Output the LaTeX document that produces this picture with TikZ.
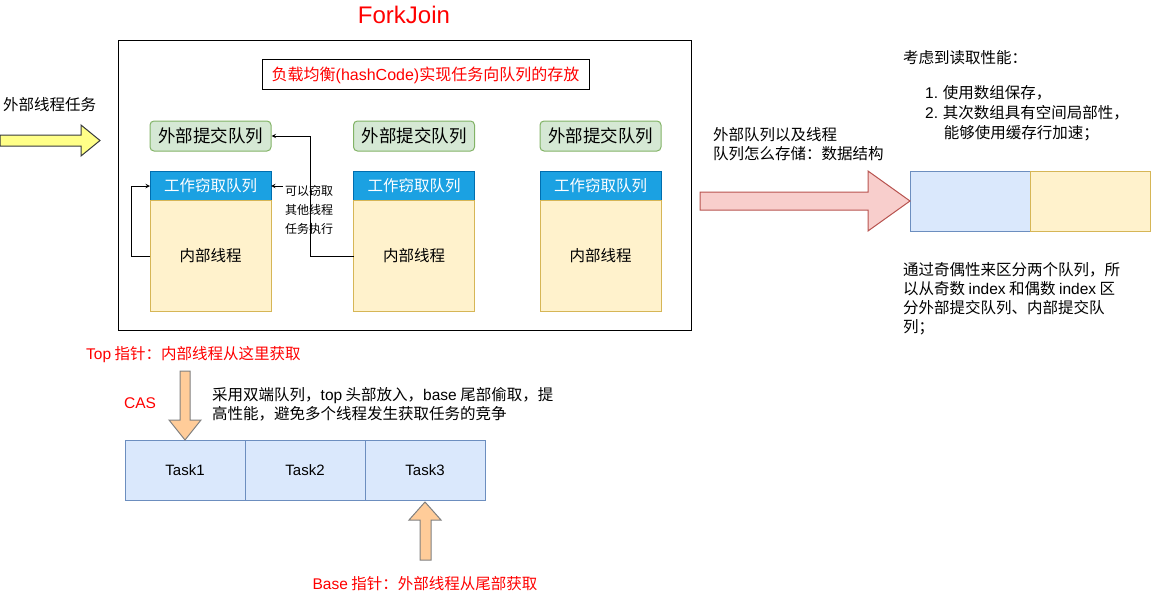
\documentclass[tikz,border=0pt]{standalone}
\usepackage{fontspec}
\setmainfont{Noto Sans CJK SC}
\newfontfamily\lat{Liberation Sans}
\usepackage{tikz}
\usetikzlibrary{arrows,shapes,calc,positioning}
\definecolor{extfill}{HTML}{D5E8D4}
\definecolor{extline}{HTML}{82B366}
\definecolor{hdrfill}{HTML}{1BA1E2}
\definecolor{hdrline}{HTML}{006EAF}
\definecolor{bodyfill}{HTML}{FFF2CC}
\definecolor{bodyline}{HTML}{D6B656}
\definecolor{taskfill}{HTML}{DAE8FC}
\definecolor{taskline}{HTML}{6C8EBF}
\definecolor{redfill}{HTML}{F8CECC}
\definecolor{redline}{HTML}{B85450}
\definecolor{yelfill}{HTML}{FFFF88}
\definecolor{orgfill}{HTML}{FFCC99}
\definecolor{darkline}{HTML}{36393D}
\definecolor{alert}{HTML}{FF0000}
\newcommand{\pxfont}[1]{\fontsize{#1}{#1}\selectfont}
\tikzstyle{pool}  =[draw=black, line width=1pt, minimum width=573,
                    minimum height=289, inner sep=0pt]
\tikzstyle{extq}  =[draw=extline, fill=extfill, rounded corners=4pt,
                    minimum width=121, minimum height=30, inner sep=0pt,
                    line width=1pt, font=\pxfont{17.5}]
\tikzstyle{stealq}=[draw=hdrline, fill=hdrfill, text=white,
                    minimum width=121, minimum height=29, inner sep=0pt,
                    outer sep=0pt, line width=1pt, font=\pxfont{15.5}]
\tikzstyle{worker}=[draw=bodyline, fill=bodyfill, minimum width=121,
                    minimum height=111, inner sep=0pt, outer sep=0pt,
                    line width=1pt, font=\pxfont{15.5}]
\tikzstyle{task}  =[draw=taskline, fill=taskfill, minimum width=120,
                    minimum height=60, inner sep=0pt, outer sep=0pt,
                    line width=1pt, font=\lat\pxfont{15}]
\tikzstyle{note}  =[inner sep=0pt, align=left, font=\pxfont{15.5}]
\tikzstyle{flow}  =[->, >=stealth, line width=1pt]
\tikzstyle{block} =[line width=1pt, line join=miter]

\begin{document}
\begin{tikzpicture}[x=1pt, y=-1pt]
    \useasboundingbox (0,0) rectangle (1152,602);
    % pool with its three workers
    \node (pool) [pool] at (404.5,185.5) {};
    \node (title) [text=alert, inner sep=0pt, font=\lat\pxfont{24}] at (404,15) {ForkJoin};
    \node (hash) [draw=black, line width=1pt, minimum width=327, minimum height=30,
                  inner sep=0pt, text=alert, font=\pxfont{16}] at (425.5,75)
                  {负载均衡{\lat (hashCode)}实现任务向队列的存放};
    \node (g1) [extq] at (210.5,136) {外部提交队列};
    \node (g2) [extq] at (414,136) {外部提交队列};
    \node (g3) [extq] at (600.5,136) {外部提交队列};
    \node (h1) [stealq, below=20pt of g1] {工作窃取队列};
    \node (h2) [stealq, below=20pt of g2] {工作窃取队列};
    \node (h3) [stealq, below=20pt of g3] {工作窃取队列};
    \node (b1) [worker, below=0pt of h1] {内部线程};
    \node (b2) [worker, below=0pt of h2] {内部线程};
    \node (b3) [worker, below=0pt of h3] {内部线程};
    \node (steal) [inner sep=0pt, align=left, anchor=west,
                   font=\fontsize{12}{19}\selectfont] at (285,210)
                   {可以窃取\\其他线程\\任务执行};
    \draw[flow] (b1.west) -- ++(-19,0) |- (h1.west);
    \draw[flow] (b2.west) -- ++(-43,0) |- (g1.east);
    \draw[flow] ($(steal.west |- h1.east)+(-2,0)$) -- (h1.east);
    % outside submit
    \node (outer) [note, anchor=west] at (3,105) {外部线程任务};
    \draw[block, draw=darkline, fill=yelfill] (0,135) -- (81,135) -- (81,125)
        -- (100,140.5) -- (81,156) -- (81,146) -- (0,146) -- cycle;
    % storage of the queues
    \node (how) [note, anchor=west, font=\fontsize{15.5}{19}\selectfont] at (713,144.5)
                {外部队列以及线程\\队列怎么存储：数据结构};
    \node (q1) [draw=taskline, fill=taskfill, line width=1pt, minimum width=120,
                minimum height=60, outer sep=0pt] at (970,201) {};
    \node (q2) [draw=bodyline, fill=bodyfill, line width=1pt, minimum width=120,
                minimum height=60, outer sep=0pt, right=0pt of q1] {};
    \draw[block, draw=redline, fill=redfill] (700,192) -- (868,192) -- (868,171)
        -- (q1.west) -- (868,231) -- (868,210) -- (700,210) -- cycle;
    \node (read) [note, anchor=west] at (903,58) {考虑到读取性能：};
    \node (list) [note, anchor=west, font=\fontsize{15.5}{20}\selectfont] at (925,113)
                 {{\lat 1.} 使用数组保存，\\{\lat 2.} 其次数组具有空间局部性，\\\phantom{\lat 2. }能够使用缓存行加速；};
    \node (parity) [note, anchor=west, font=\fontsize{15.5}{19}\selectfont] at (903,298.5)
                   {通过奇偶性来区分两个队列，所\\以从奇数 {\lat index} 和偶数 {\lat index} 区\\分外部提交队列、内部提交队\\列；};
    % deque of tasks
    \node (t1) [task] at (185,470) {Task1};
    \node (t2) [task, right=0pt of t1] {Task2};
    \node (t3) [task, right=0pt of t2] {Task3};
    \node (top) [note, anchor=west, text=alert] at (86,355) {{\lat Top} 指针：内部线程从这里获取};
    \node (cas) [inner sep=0pt, text=alert, font=\lat\pxfont{15.5}] at (140,403) {CAS};
    \node (deque) [note, anchor=west, font=\fontsize{15.5}{19}\selectfont] at (212,404.5)
                  {采用双端队列，{\lat top} 头部放入，{\lat base} 尾部偷取，提\\高性能，避免多个线程发生获取任务的竞争};
    \node (base) [note, text=alert] at (425,584) {{\lat Base} 指针：外部线程从尾部获取};
    \draw[block, draw=gray, fill=orgfill] (180,371) -- (190,371) -- (190,420)
        -- (201,420) -- (t1.north) -- (169,420) -- (180,420) -- cycle;
    \draw[block, draw=gray, fill=orgfill] (420,560) -- (431,560) -- (431,520)
        -- (441,520) -- ($(t3.south)+(0,2)$) -- (409,520) -- (420,520) -- cycle;
\end{tikzpicture}
\end{document}
